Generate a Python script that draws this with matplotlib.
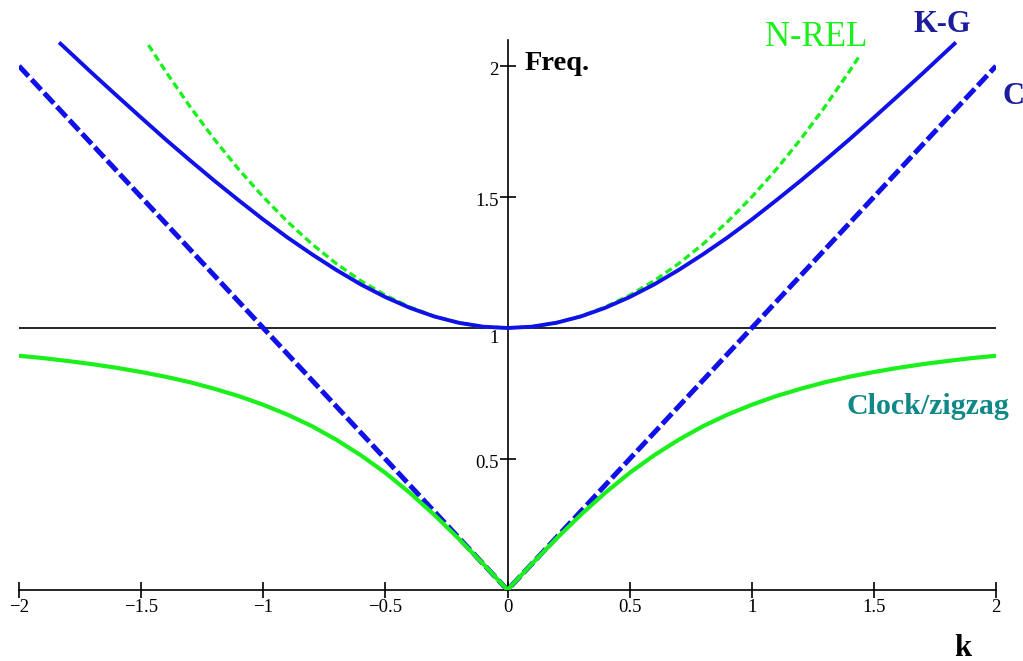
import matplotlib.pyplot as plt
import matplotlib.transforms as mtransforms
import numpy as np

# wave number samples for k >= 0 (curves are mirrored about k = 0)
k_half = [0.0, 0.1, 0.2, 0.3, 0.4, 0.5, 0.6, 0.7, 0.8, 0.9, 1.0,
          1.1, 1.2, 1.3, 1.4, 1.5, 1.6, 1.7, 1.8, 1.9, 2.0]

# Klein-Gordon (solid blue)
kg_half = [1.000, 1.005, 1.020, 1.044, 1.077, 1.118, 1.166, 1.221, 1.281, 1.345, 1.414,
           1.487, 1.562, 1.640, 1.720, 1.803, 1.887, 1.972, 2.059]
kg_end = 1.83
kg_end_val = 2.085

# non-relativistic (dashed green)
nrel_half = [1.000, 1.005, 1.020, 1.045, 1.080, 1.125, 1.180, 1.245, 1.320, 1.405, 1.500,
             1.605, 1.720, 1.845, 1.980]
nrel_left = (-1.47, 2.080)
nrel_right = (1.445, 2.044)

# clock / zigzag (solid green)
clock_half = [0.000, 0.100, 0.196, 0.287, 0.371, 0.447, 0.514, 0.573, 0.625, 0.669, 0.707,
              0.740, 0.768, 0.793, 0.814, 0.832, 0.848, 0.862, 0.874, 0.885, 0.894]

# C (dashed blue)
c_k = [-2.0, 0.0, 2.0]
c_val = [2.0, 0.0, 2.0]

xticks = [-2, -1.5, -1, -0.5, 0, 0.5, 1, 1.5, 2]
xtick_labels = ['\u22122', '\u22121.5', '\u22121', '\u22120.5', '0', '0.5', '1', '1.5', '2']
yticks = [0.5, 1, 1.5, 2]
ytick_labels = ['0.5', '1', '1.5', '2']


def mirror(ks, vals):
    ks = np.array(ks)
    vals = np.array(vals)
    return np.concatenate([-ks[:0:-1], ks]), np.concatenate([vals[:0:-1], vals])


blue = '#1010e8'
green = '#1cf01c'
navy = '#1c1c9c'

fig = plt.figure(figsize=(10.23, 6.61), dpi=100)
ax = fig.add_axes([19 / 1023, 71 / 661, 977 / 1023, 2.1 * 262 / 661])

# C
ax.plot(c_k, c_val, color=blue, lw=3.6, ls=(0, (2.8, 0.9)), zorder=2)

# clock / zigzag
kx, ky = mirror(k_half, clock_half)
ax.plot(kx, ky, color=green, lw=3.0, zorder=3, solid_joinstyle='round')

# N-REL
kx, ky = mirror(k_half[:len(nrel_half)], nrel_half)
kx = np.concatenate([[nrel_left[0]], kx, [nrel_right[0]]])
ky = np.concatenate([[nrel_left[1]], ky, [nrel_right[1]]])
ax.plot(kx, ky, color=green, lw=2.4, ls=(0, (2.2, 1.2)), zorder=4)

# K-G
kx, ky = mirror(k_half[:len(kg_half)], kg_half)
kx = np.concatenate([[-kg_end], kx, [kg_end]])
ky = np.concatenate([[kg_end_val], ky, [kg_end_val]])
ax.plot(kx, ky, color=blue, lw=2.8, zorder=5)

ax.axhline(1, color='black', lw=1.2, zorder=1)

ax.set_xlim(-2, 2)
ax.set_ylim(0, 2.1)
ax.spines['top'].set_visible(False)
ax.spines['right'].set_visible(False)
ax.spines['left'].set_position(('data', 0))
ax.spines['bottom'].set_position(('data', 0))
ax.spines['left'].set_linewidth(1.2)
ax.spines['bottom'].set_linewidth(1.2)

ax.set_xticks(xticks)
ax.set_xticklabels(xtick_labels)
ax.set_yticks(yticks)
ax.set_yticklabels(ytick_labels)
ax.tick_params(direction='inout', length=11, width=1.2, labelsize=13.5, pad=1)
ax.tick_params(axis='x', pad=1)
for lab in ax.get_xticklabels() + ax.get_yticklabels():
    lab.set_family('Liberation Serif')

# y labels sit a little low; the "1" sits under the horizontal line
shift = mtransforms.ScaledTranslation(0, -2 / 72, fig.dpi_scale_trans)
for lab in ax.get_yticklabels():
    lab.set_transform(lab.get_transform() + shift)
one = ax.get_yticklabels()[1]
one.set_transform(one.get_transform() + mtransforms.ScaledTranslation(0, -4 / 72, fig.dpi_scale_trans))

tfont = dict(family='Liberation Serif', fontweight='bold')
fig.text(525 / 1023, 1 - 64 / 661, 'Freq.', fontsize=20.5, color='black',
         ha='left', va='center', **tfont)
fig.text(816 / 1023, 1 - 37 / 661, 'N-REL', fontsize=25, color=green,
         family='Liberation Serif', ha='center', va='center')
fig.text(942 / 1023, 1 - 25 / 661, 'K-G', fontsize=22, color=navy,
         ha='center', va='center', **tfont)
fig.text(1014 / 1023, 1 - 96 / 661, 'C', fontsize=22, color=navy,
         ha='center', va='center', **tfont)
fig.text(928 / 1023, 1 - 407 / 661, 'Clock/zigzag', fontsize=21.5, color='#108888',
         ha='center', va='center', **tfont)
fig.text(963 / 1023, 1 - 648 / 661, 'k', fontsize=22, color='black',
         ha='center', va='center', **tfont)

fig.savefig('out.png', dpi=100)
